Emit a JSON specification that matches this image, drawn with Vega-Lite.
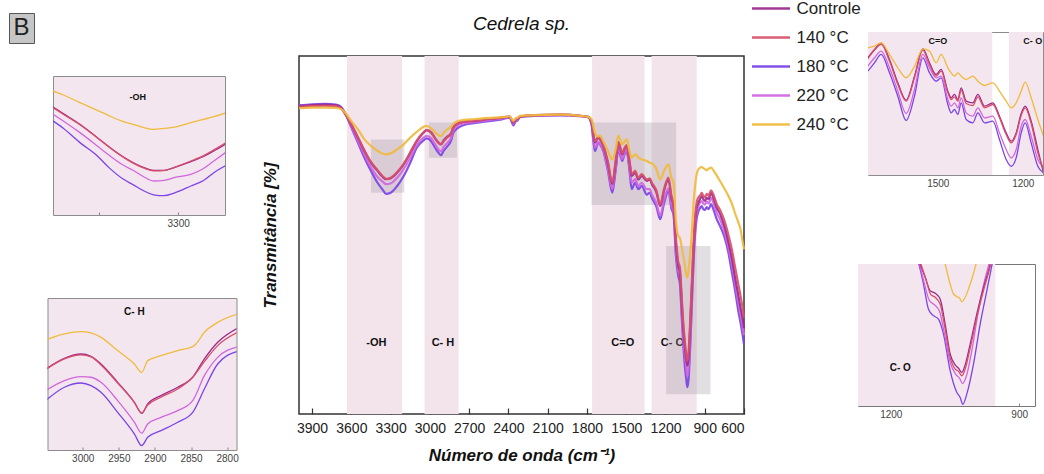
{
"$schema":"https://vega.github.io/schema/vega-lite/v6.json",
"padding":{"left":8,"top":-16,"right":0,"bottom":0},
"config":{"font":"Liberation Sans","view":{"stroke":null},"axis":{"grid":false},
 "legend":{"orient":"none","legendX":741.5,"legendY":4,"symbolType":"stroke","symbolSize":1444,"symbolStrokeWidth":2.5,"labelFontSize":17,"labelColor":"#222","labelOffset":5,"rowPadding":-8,"padding":0}},
"datasets":{
"bands":[{"w":3634,"w2":3212},{"w":3041,"w2":2780},{"w":1761,"w2":1360},{"w":1306,"w2":961}],
"boxes":[{"w":3450,"w2":3195,"t":61.8,"t2":76.7},{"w":3007,"w2":2793,"t":71.6,"t2":81.4},{"w":1765,"w2":1118,"t":58.4,"t2":81.4},{"w":1195,"w2":856,"t":5.5,"t2":46.9}],
"labels":[{"w":3409,"t":19.8,"label":"-OH"},{"w":2900,"t":19.8,"label":"C- H"},{"w":1526,"t":19.8,"label":"C=O"},{"w":1147,"t":19.8,"label":"C- O"}],
"coBands":[{"w":1760,"w2":1308},{"w":1249,"w2":1100}],
"coOBands":[{"w":1290,"w2":956}],
"lOH":[{"w":3351,"t":77.85,"label":"-OH"}],
"lCH":[{"w":2928.5,"t":81.45,"label":"C- H"}],
"lCO":[{"w":1500,"t":79.1,"label":"C=O"},{"w":1164.6,"t":79.1,"label":"C- O"}],
"lCO2":[{"w":1178,"t":18.5,"label":"C- O"}],
"bl":[{"label":"B"}],
"main":[
{"s":"180 °C","w":4000,"t":86.2},{"s":"180 °C","w":3900,"t":86.5},{"s":"180 °C","w":3800,"t":86.6},{"s":"180 °C","w":3720,"t":86.4},{"s":"180 °C","w":3680,"t":85.8},{"s":"180 °C","w":3650,"t":84.2},{"s":"180 °C","w":3600,"t":80.0},{"s":"180 °C","w":3550,"t":75.8},{"s":"180 °C","w":3500,"t":71.6},{"s":"180 °C","w":3450,"t":67.9},{"s":"180 °C","w":3400,"t":64.6},{"s":"180 °C","w":3360,"t":62.6},{"s":"180 °C","w":3335,"t":61.5},{"s":"180 °C","w":3300,"t":61.8},{"s":"180 °C","w":3250,"t":63.7},{"s":"180 °C","w":3200,"t":66.5},{"s":"180 °C","w":3150,"t":70.2},{"s":"180 °C","w":3100,"t":74.4},{"s":"180 °C","w":3050,"t":76.4},{"s":"180 °C","w":3025,"t":77.0},{"s":"180 °C","w":2990,"t":76.2},{"s":"180 °C","w":2960,"t":74.4},{"s":"180 °C","w":2935,"t":73.0},{"s":"180 °C","w":2915,"t":72.3},{"s":"180 °C","w":2895,"t":73.5},{"s":"180 °C","w":2870,"t":74.6},{"s":"180 °C","w":2840,"t":76.2},{"s":"180 °C","w":2820,"t":78.6},{"s":"180 °C","w":2790,"t":79.8},{"s":"180 °C","w":2750,"t":80.6},{"s":"180 °C","w":2650,"t":81.3},{"s":"180 °C","w":2550,"t":81.8},{"s":"180 °C","w":2450,"t":82.3},{"s":"180 °C","w":2390,"t":82.8},{"s":"180 °C","w":2362,"t":80.6},{"s":"180 °C","w":2345,"t":81.7},{"s":"180 °C","w":2330,"t":82.0},{"s":"180 °C","w":2310,"t":83.0},{"s":"180 °C","w":2200,"t":83.3},{"s":"180 °C","w":2000,"t":83.4},{"s":"180 °C","w":1850,"t":83.2},{"s":"180 °C","w":1790,"t":82.9},{"s":"180 °C","w":1765,"t":80.9},{"s":"180 °C","w":1739,"t":73.4},{"s":"180 °C","w":1714,"t":75.8},{"s":"180 °C","w":1701,"t":75.3},{"s":"180 °C","w":1675,"t":73.4},{"s":"180 °C","w":1640,"t":68.0},{"s":"180 °C","w":1606,"t":61.8},{"s":"180 °C","w":1580,"t":68.3},{"s":"180 °C","w":1560,"t":73.9},{"s":"180 °C","w":1530,"t":70.7},{"s":"180 °C","w":1515,"t":72.3},{"s":"180 °C","w":1496,"t":73.4},{"s":"180 °C","w":1475,"t":68.0},{"s":"180 °C","w":1458,"t":62.8},{"s":"180 °C","w":1432,"t":64.6},{"s":"180 °C","w":1407,"t":62.8},{"s":"180 °C","w":1381,"t":63.7},{"s":"180 °C","w":1343,"t":61.3},{"s":"180 °C","w":1320,"t":61.8},{"s":"180 °C","w":1304,"t":60.4},{"s":"180 °C","w":1270,"t":58.0},{"s":"180 °C","w":1240,"t":54.4},{"s":"180 °C","w":1210,"t":59.0},{"s":"180 °C","w":1177,"t":62.3},{"s":"180 °C","w":1155,"t":57.5},{"s":"180 °C","w":1138,"t":55.5},{"s":"180 °C","w":1120,"t":44.0},{"s":"180 °C","w":1102,"t":38.5},{"s":"180 °C","w":1090,"t":36.5},{"s":"180 °C","w":1077,"t":28.0},{"s":"180 °C","w":1064,"t":19.5},{"s":"180 °C","w":1051,"t":13.0},{"s":"180 °C","w":1042,"t":10.0},{"s":"180 °C","w":1033,"t":7.5},{"s":"180 °C","w":1024,"t":9.5},{"s":"180 °C","w":1013,"t":17.0},{"s":"180 °C","w":1000,"t":29.0},{"s":"180 °C","w":987,"t":41.0},{"s":"180 °C","w":974,"t":50.0},{"s":"180 °C","w":962,"t":54.5},{"s":"180 °C","w":949,"t":56.5},{"s":"180 °C","w":936,"t":57.5},{"s":"180 °C","w":923,"t":58.1},{"s":"180 °C","w":911,"t":57.2},{"s":"180 °C","w":898,"t":57.0},{"s":"180 °C","w":885,"t":57.8},{"s":"180 °C","w":870,"t":57.2},{"s":"180 °C","w":852,"t":58.6},{"s":"180 °C","w":834,"t":57.2},{"s":"180 °C","w":808,"t":54.4},{"s":"180 °C","w":783,"t":52.5},{"s":"180 °C","w":750,"t":49.5},{"s":"180 °C","w":719,"t":45.0},{"s":"180 °C","w":690,"t":39.0},{"s":"180 °C","w":668,"t":34.5},{"s":"180 °C","w":642,"t":28.5},{"s":"180 °C","w":629,"t":26.0},{"s":"180 °C","w":610,"t":22.0},{"s":"180 °C","w":600,"t":19.5},
{"s":"220 °C","w":4000,"t":85.9},{"s":"220 °C","w":3900,"t":86.1},{"s":"220 °C","w":3800,"t":86.2},{"s":"220 °C","w":3720,"t":86.0},{"s":"220 °C","w":3680,"t":85.5},{"s":"220 °C","w":3650,"t":84.1},{"s":"220 °C","w":3600,"t":80.4},{"s":"220 °C","w":3550,"t":76.4},{"s":"220 °C","w":3500,"t":72.5},{"s":"220 °C","w":3450,"t":69.0},{"s":"220 °C","w":3400,"t":66.2},{"s":"220 °C","w":3360,"t":64.9},{"s":"220 °C","w":3335,"t":64.2},{"s":"220 °C","w":3300,"t":64.4},{"s":"220 °C","w":3250,"t":66.0},{"s":"220 °C","w":3200,"t":68.4},{"s":"220 °C","w":3150,"t":71.6},{"s":"220 °C","w":3100,"t":75.1},{"s":"220 °C","w":3050,"t":77.2},{"s":"220 °C","w":3025,"t":77.7},{"s":"220 °C","w":2990,"t":77.0},{"s":"220 °C","w":2960,"t":75.3},{"s":"220 °C","w":2935,"t":73.9},{"s":"220 °C","w":2915,"t":73.4},{"s":"220 °C","w":2895,"t":74.6},{"s":"220 °C","w":2870,"t":75.6},{"s":"220 °C","w":2840,"t":77.0},{"s":"220 °C","w":2820,"t":79.3},{"s":"220 °C","w":2790,"t":80.5},{"s":"220 °C","w":2750,"t":81.1},{"s":"220 °C","w":2650,"t":81.6},{"s":"220 °C","w":2550,"t":82.1},{"s":"220 °C","w":2450,"t":82.6},{"s":"220 °C","w":2390,"t":83.0},{"s":"220 °C","w":2362,"t":81.1},{"s":"220 °C","w":2345,"t":81.9},{"s":"220 °C","w":2330,"t":82.2},{"s":"220 °C","w":2310,"t":83.0},{"s":"220 °C","w":2200,"t":83.4},{"s":"220 °C","w":2000,"t":83.5},{"s":"220 °C","w":1850,"t":83.2},{"s":"220 °C","w":1790,"t":82.9},{"s":"220 °C","w":1765,"t":81.0},{"s":"220 °C","w":1739,"t":74.4},{"s":"220 °C","w":1714,"t":76.0},{"s":"220 °C","w":1701,"t":75.5},{"s":"220 °C","w":1675,"t":73.8},{"s":"220 °C","w":1640,"t":68.5},{"s":"220 °C","w":1606,"t":62.8},{"s":"220 °C","w":1580,"t":69.0},{"s":"220 °C","w":1560,"t":74.5},{"s":"220 °C","w":1530,"t":71.2},{"s":"220 °C","w":1515,"t":72.6},{"s":"220 °C","w":1496,"t":73.8},{"s":"220 °C","w":1475,"t":68.8},{"s":"220 °C","w":1458,"t":64.6},{"s":"220 °C","w":1432,"t":65.6},{"s":"220 °C","w":1407,"t":63.7},{"s":"220 °C","w":1381,"t":64.6},{"s":"220 °C","w":1343,"t":62.8},{"s":"220 °C","w":1320,"t":62.8},{"s":"220 °C","w":1304,"t":61.3},{"s":"220 °C","w":1270,"t":59.0},{"s":"220 °C","w":1240,"t":55.5},{"s":"220 °C","w":1210,"t":60.0},{"s":"220 °C","w":1177,"t":63.0},{"s":"220 °C","w":1155,"t":58.5},{"s":"220 °C","w":1138,"t":56.5},{"s":"220 °C","w":1120,"t":45.5},{"s":"220 °C","w":1102,"t":40.0},{"s":"220 °C","w":1090,"t":38.5},{"s":"220 °C","w":1077,"t":30.0},{"s":"220 °C","w":1064,"t":21.5},{"s":"220 °C","w":1051,"t":16.0},{"s":"220 °C","w":1042,"t":13.0},{"s":"220 °C","w":1033,"t":10.5},{"s":"220 °C","w":1024,"t":12.5},{"s":"220 °C","w":1013,"t":20.0},{"s":"220 °C","w":1000,"t":31.5},{"s":"220 °C","w":987,"t":43.0},{"s":"220 °C","w":974,"t":52.0},{"s":"220 °C","w":962,"t":56.0},{"s":"220 °C","w":949,"t":58.0},{"s":"220 °C","w":936,"t":59.0},{"s":"220 °C","w":923,"t":59.5},{"s":"220 °C","w":911,"t":58.8},{"s":"220 °C","w":898,"t":58.5},{"s":"220 °C","w":885,"t":59.3},{"s":"220 °C","w":870,"t":58.8},{"s":"220 °C","w":852,"t":60.4},{"s":"220 °C","w":834,"t":59.0},{"s":"220 °C","w":808,"t":56.2},{"s":"220 °C","w":783,"t":54.4},{"s":"220 °C","w":750,"t":51.0},{"s":"220 °C","w":719,"t":46.5},{"s":"220 °C","w":690,"t":41.5},{"s":"220 °C","w":668,"t":36.5},{"s":"220 °C","w":642,"t":31.0},{"s":"220 °C","w":629,"t":28.5},{"s":"220 °C","w":610,"t":24.5},{"s":"220 °C","w":600,"t":22.0},
{"s":"Controle","w":4000,"t":86.0},{"s":"Controle","w":3900,"t":86.3},{"s":"Controle","w":3800,"t":86.4},{"s":"Controle","w":3720,"t":86.2},{"s":"Controle","w":3680,"t":85.6},{"s":"Controle","w":3650,"t":84.0},{"s":"Controle","w":3600,"t":80.8},{"s":"Controle","w":3550,"t":77.2},{"s":"Controle","w":3500,"t":73.5},{"s":"Controle","w":3450,"t":70.2},{"s":"Controle","w":3400,"t":67.9},{"s":"Controle","w":3360,"t":66.2},{"s":"Controle","w":3335,"t":65.6},{"s":"Controle","w":3300,"t":65.8},{"s":"Controle","w":3250,"t":67.4},{"s":"Controle","w":3200,"t":69.7},{"s":"Controle","w":3150,"t":72.9},{"s":"Controle","w":3100,"t":76.2},{"s":"Controle","w":3050,"t":78.5},{"s":"Controle","w":3025,"t":79.2},{"s":"Controle","w":2990,"t":78.6},{"s":"Controle","w":2960,"t":77.0},{"s":"Controle","w":2935,"t":75.8},{"s":"Controle","w":2915,"t":75.3},{"s":"Controle","w":2895,"t":76.4},{"s":"Controle","w":2870,"t":77.4},{"s":"Controle","w":2840,"t":78.3},{"s":"Controle","w":2820,"t":80.2},{"s":"Controle","w":2790,"t":81.1},{"s":"Controle","w":2750,"t":81.6},{"s":"Controle","w":2650,"t":81.9},{"s":"Controle","w":2550,"t":82.4},{"s":"Controle","w":2450,"t":82.8},{"s":"Controle","w":2390,"t":83.1},{"s":"Controle","w":2362,"t":81.4},{"s":"Controle","w":2345,"t":82.2},{"s":"Controle","w":2330,"t":82.5},{"s":"Controle","w":2310,"t":83.1},{"s":"Controle","w":2200,"t":83.5},{"s":"Controle","w":2000,"t":83.6},{"s":"Controle","w":1850,"t":83.3},{"s":"Controle","w":1790,"t":83.0},{"s":"Controle","w":1765,"t":81.4},{"s":"Controle","w":1739,"t":75.8},{"s":"Controle","w":1714,"t":77.2},{"s":"Controle","w":1701,"t":76.7},{"s":"Controle","w":1675,"t":74.9},{"s":"Controle","w":1640,"t":70.0},{"s":"Controle","w":1606,"t":64.2},{"s":"Controle","w":1580,"t":70.5},{"s":"Controle","w":1560,"t":75.8},{"s":"Controle","w":1530,"t":72.5},{"s":"Controle","w":1515,"t":73.9},{"s":"Controle","w":1496,"t":74.9},{"s":"Controle","w":1475,"t":70.5},{"s":"Controle","w":1458,"t":66.5},{"s":"Controle","w":1432,"t":67.4},{"s":"Controle","w":1407,"t":65.5},{"s":"Controle","w":1381,"t":66.5},{"s":"Controle","w":1343,"t":65.1},{"s":"Controle","w":1320,"t":65.5},{"s":"Controle","w":1304,"t":64.2},{"s":"Controle","w":1270,"t":62.0},{"s":"Controle","w":1240,"t":58.1},{"s":"Controle","w":1210,"t":62.5},{"s":"Controle","w":1177,"t":65.5},{"s":"Controle","w":1155,"t":60.5},{"s":"Controle","w":1138,"t":58.1},{"s":"Controle","w":1120,"t":47.5},{"s":"Controle","w":1102,"t":41.3},{"s":"Controle","w":1090,"t":39.8},{"s":"Controle","w":1077,"t":32.0},{"s":"Controle","w":1064,"t":24.0},{"s":"Controle","w":1051,"t":18.5},{"s":"Controle","w":1042,"t":15.5},{"s":"Controle","w":1033,"t":13.5},{"s":"Controle","w":1024,"t":15.5},{"s":"Controle","w":1013,"t":23.0},{"s":"Controle","w":1000,"t":34.0},{"s":"Controle","w":987,"t":45.0},{"s":"Controle","w":974,"t":53.5},{"s":"Controle","w":962,"t":57.5},{"s":"Controle","w":949,"t":59.0},{"s":"Controle","w":936,"t":60.0},{"s":"Controle","w":923,"t":60.9},{"s":"Controle","w":911,"t":60.0},{"s":"Controle","w":898,"t":59.5},{"s":"Controle","w":885,"t":60.4},{"s":"Controle","w":870,"t":60.0},{"s":"Controle","w":852,"t":61.8},{"s":"Controle","w":834,"t":60.4},{"s":"Controle","w":808,"t":57.6},{"s":"Controle","w":783,"t":55.9},{"s":"Controle","w":750,"t":52.5},{"s":"Controle","w":719,"t":48.0},{"s":"Controle","w":690,"t":43.0},{"s":"Controle","w":668,"t":38.1},{"s":"Controle","w":642,"t":33.0},{"s":"Controle","w":629,"t":30.2},{"s":"Controle","w":610,"t":26.5},{"s":"Controle","w":600,"t":24.0},
{"s":"140 °C","w":4000,"t":85.8},{"s":"140 °C","w":3900,"t":86.0},{"s":"140 °C","w":3800,"t":86.1},{"s":"140 °C","w":3720,"t":86.0},{"s":"140 °C","w":3680,"t":85.4},{"s":"140 °C","w":3650,"t":84.0},{"s":"140 °C","w":3600,"t":80.9},{"s":"140 °C","w":3550,"t":77.4},{"s":"140 °C","w":3500,"t":73.6},{"s":"140 °C","w":3450,"t":70.4},{"s":"140 °C","w":3400,"t":68.1},{"s":"140 °C","w":3360,"t":66.4},{"s":"140 °C","w":3335,"t":65.7},{"s":"140 °C","w":3300,"t":66.0},{"s":"140 °C","w":3250,"t":67.6},{"s":"140 °C","w":3200,"t":69.9},{"s":"140 °C","w":3150,"t":73.1},{"s":"140 °C","w":3100,"t":76.4},{"s":"140 °C","w":3050,"t":78.7},{"s":"140 °C","w":3025,"t":79.4},{"s":"140 °C","w":2990,"t":78.7},{"s":"140 °C","w":2960,"t":77.0},{"s":"140 °C","w":2935,"t":75.8},{"s":"140 °C","w":2915,"t":75.4},{"s":"140 °C","w":2895,"t":76.2},{"s":"140 °C","w":2870,"t":77.2},{"s":"140 °C","w":2840,"t":78.1},{"s":"140 °C","w":2820,"t":80.0},{"s":"140 °C","w":2790,"t":81.0},{"s":"140 °C","w":2750,"t":81.6},{"s":"140 °C","w":2650,"t":82.0},{"s":"140 °C","w":2550,"t":82.4},{"s":"140 °C","w":2450,"t":82.8},{"s":"140 °C","w":2390,"t":83.1},{"s":"140 °C","w":2362,"t":81.5},{"s":"140 °C","w":2345,"t":82.3},{"s":"140 °C","w":2330,"t":82.5},{"s":"140 °C","w":2310,"t":83.1},{"s":"140 °C","w":2200,"t":83.5},{"s":"140 °C","w":2000,"t":83.6},{"s":"140 °C","w":1850,"t":83.3},{"s":"140 °C","w":1790,"t":83.0},{"s":"140 °C","w":1765,"t":81.6},{"s":"140 °C","w":1739,"t":76.2},{"s":"140 °C","w":1714,"t":77.4},{"s":"140 °C","w":1701,"t":77.0},{"s":"140 °C","w":1675,"t":75.1},{"s":"140 °C","w":1640,"t":70.5},{"s":"140 °C","w":1606,"t":64.6},{"s":"140 °C","w":1580,"t":71.0},{"s":"140 °C","w":1560,"t":76.0},{"s":"140 °C","w":1530,"t":72.8},{"s":"140 °C","w":1515,"t":74.1},{"s":"140 °C","w":1496,"t":75.1},{"s":"140 °C","w":1475,"t":70.8},{"s":"140 °C","w":1458,"t":67.0},{"s":"140 °C","w":1432,"t":67.9},{"s":"140 °C","w":1407,"t":66.0},{"s":"140 °C","w":1381,"t":67.0},{"s":"140 °C","w":1343,"t":65.5},{"s":"140 °C","w":1320,"t":65.8},{"s":"140 °C","w":1304,"t":64.6},{"s":"140 °C","w":1270,"t":62.5},{"s":"140 °C","w":1240,"t":58.6},{"s":"140 °C","w":1210,"t":63.0},{"s":"140 °C","w":1177,"t":66.0},{"s":"140 °C","w":1155,"t":61.0},{"s":"140 °C","w":1138,"t":58.6},{"s":"140 °C","w":1120,"t":49.0},{"s":"140 °C","w":1102,"t":42.5},{"s":"140 °C","w":1090,"t":41.0},{"s":"140 °C","w":1077,"t":33.5},{"s":"140 °C","w":1064,"t":25.5},{"s":"140 °C","w":1051,"t":20.0},{"s":"140 °C","w":1042,"t":16.8},{"s":"140 °C","w":1033,"t":14.8},{"s":"140 °C","w":1024,"t":17.0},{"s":"140 °C","w":1013,"t":24.5},{"s":"140 °C","w":1000,"t":35.5},{"s":"140 °C","w":987,"t":46.5},{"s":"140 °C","w":974,"t":55.0},{"s":"140 °C","w":962,"t":59.0},{"s":"140 °C","w":949,"t":60.5},{"s":"140 °C","w":936,"t":61.0},{"s":"140 °C","w":923,"t":61.8},{"s":"140 °C","w":911,"t":61.0},{"s":"140 °C","w":898,"t":60.5},{"s":"140 °C","w":885,"t":61.5},{"s":"140 °C","w":870,"t":61.0},{"s":"140 °C","w":852,"t":62.5},{"s":"140 °C","w":834,"t":61.3},{"s":"140 °C","w":808,"t":58.6},{"s":"140 °C","w":783,"t":57.0},{"s":"140 °C","w":750,"t":54.0},{"s":"140 °C","w":719,"t":50.0},{"s":"140 °C","w":690,"t":45.5},{"s":"140 °C","w":668,"t":41.0},{"s":"140 °C","w":642,"t":36.0},{"s":"140 °C","w":629,"t":33.5},{"s":"140 °C","w":610,"t":29.5},{"s":"140 °C","w":600,"t":27.0},
{"s":"240 °C","w":4000,"t":85.4},{"s":"240 °C","w":3900,"t":85.6},{"s":"240 °C","w":3800,"t":85.6},{"s":"240 °C","w":3720,"t":85.5},{"s":"240 °C","w":3680,"t":85.2},{"s":"240 °C","w":3650,"t":84.3},{"s":"240 °C","w":3600,"t":81.8},{"s":"240 °C","w":3550,"t":79.5},{"s":"240 °C","w":3500,"t":76.7},{"s":"240 °C","w":3450,"t":74.9},{"s":"240 °C","w":3400,"t":73.5},{"s":"240 °C","w":3360,"t":72.7},{"s":"240 °C","w":3335,"t":72.5},{"s":"240 °C","w":3300,"t":72.8},{"s":"240 °C","w":3250,"t":73.9},{"s":"240 °C","w":3200,"t":75.3},{"s":"240 °C","w":3150,"t":77.2},{"s":"240 °C","w":3100,"t":78.8},{"s":"240 °C","w":3050,"t":80.2},{"s":"240 °C","w":3025,"t":80.5},{"s":"240 °C","w":2990,"t":79.8},{"s":"240 °C","w":2960,"t":78.7},{"s":"240 °C","w":2935,"t":77.9},{"s":"240 °C","w":2915,"t":77.6},{"s":"240 °C","w":2895,"t":78.6},{"s":"240 °C","w":2870,"t":79.4},{"s":"240 °C","w":2840,"t":80.2},{"s":"240 °C","w":2820,"t":81.1},{"s":"240 °C","w":2790,"t":81.8},{"s":"240 °C","w":2750,"t":82.1},{"s":"240 °C","w":2650,"t":82.4},{"s":"240 °C","w":2550,"t":82.7},{"s":"240 °C","w":2450,"t":82.9},{"s":"240 °C","w":2390,"t":83.1},{"s":"240 °C","w":2362,"t":81.9},{"s":"240 °C","w":2345,"t":82.6},{"s":"240 °C","w":2330,"t":82.8},{"s":"240 °C","w":2310,"t":83.3},{"s":"240 °C","w":2200,"t":83.5},{"s":"240 °C","w":2000,"t":83.6},{"s":"240 °C","w":1850,"t":83.3},{"s":"240 °C","w":1790,"t":83.0},{"s":"240 °C","w":1765,"t":82.3},{"s":"240 °C","w":1739,"t":78.6},{"s":"240 °C","w":1714,"t":77.5},{"s":"240 °C","w":1701,"t":77.8},{"s":"240 °C","w":1675,"t":76.2},{"s":"240 °C","w":1640,"t":73.5},{"s":"240 °C","w":1606,"t":71.1},{"s":"240 °C","w":1580,"t":74.0},{"s":"240 °C","w":1560,"t":77.8},{"s":"240 °C","w":1530,"t":75.3},{"s":"240 °C","w":1515,"t":76.0},{"s":"240 °C","w":1496,"t":76.7},{"s":"240 °C","w":1475,"t":73.5},{"s":"240 °C","w":1458,"t":71.6},{"s":"240 °C","w":1432,"t":72.5},{"s":"240 °C","w":1407,"t":71.6},{"s":"240 °C","w":1381,"t":71.1},{"s":"240 °C","w":1343,"t":70.7},{"s":"240 °C","w":1320,"t":70.2},{"s":"240 °C","w":1304,"t":70.0},{"s":"240 °C","w":1270,"t":68.5},{"s":"240 °C","w":1240,"t":65.5},{"s":"240 °C","w":1210,"t":68.0},{"s":"240 °C","w":1177,"t":69.7},{"s":"240 °C","w":1155,"t":66.0},{"s":"240 °C","w":1138,"t":64.6},{"s":"240 °C","w":1120,"t":54.0},{"s":"240 °C","w":1102,"t":49.7},{"s":"240 °C","w":1090,"t":49.2},{"s":"240 °C","w":1077,"t":46.9},{"s":"240 °C","w":1064,"t":44.1},{"s":"240 °C","w":1051,"t":41.3},{"s":"240 °C","w":1042,"t":39.0},{"s":"240 °C","w":1033,"t":38.1},{"s":"240 °C","w":1024,"t":39.8},{"s":"240 °C","w":1013,"t":44.0},{"s":"240 °C","w":1000,"t":49.7},{"s":"240 °C","w":987,"t":58.1},{"s":"240 °C","w":974,"t":63.7},{"s":"240 °C","w":962,"t":66.9},{"s":"240 °C","w":949,"t":68.3},{"s":"240 °C","w":936,"t":68.8},{"s":"240 °C","w":923,"t":69.0},{"s":"240 °C","w":911,"t":68.7},{"s":"240 °C","w":898,"t":68.4},{"s":"240 °C","w":885,"t":68.1},{"s":"240 °C","w":870,"t":68.5},{"s":"240 °C","w":852,"t":68.8},{"s":"240 °C","w":834,"t":68.1},{"s":"240 °C","w":808,"t":66.6},{"s":"240 °C","w":783,"t":65.1},{"s":"240 °C","w":750,"t":63.0},{"s":"240 °C","w":719,"t":60.9},{"s":"240 °C","w":690,"t":58.5},{"s":"240 °C","w":668,"t":56.0},{"s":"240 °C","w":642,"t":53.4},{"s":"240 °C","w":629,"t":52.0},{"s":"240 °C","w":610,"t":48.0},{"s":"240 °C","w":600,"t":46.0}
],
"dOH":[
{"s":"180 °C","w":3463,"t":74.3},{"s":"180 °C","w":3445,"t":72.61},{"s":"180 °C","w":3424,"t":70.22},{"s":"180 °C","w":3402,"t":67.99},{"s":"180 °C","w":3387,"t":66.0},{"s":"180 °C","w":3369,"t":64.09},{"s":"180 °C","w":3357,"t":63.2},{"s":"180 °C","w":3343,"t":62.14},{"s":"180 °C","w":3331,"t":61.5},{"s":"180 °C","w":3318,"t":61.35},{"s":"180 °C","w":3305,"t":61.8},{"s":"180 °C","w":3284,"t":62.97},{"s":"180 °C","w":3268,"t":63.9},{"s":"180 °C","w":3255,"t":65.2},{"s":"180 °C","w":3239,"t":66.45},
{"s":"220 °C","w":3463,"t":75.4},{"s":"220 °C","w":3445,"t":73.84},{"s":"220 °C","w":3424,"t":71.89},{"s":"220 °C","w":3402,"t":69.66},{"s":"220 °C","w":3387,"t":68.1},{"s":"220 °C","w":3369,"t":66.43},{"s":"220 °C","w":3357,"t":65.6},{"s":"220 °C","w":3343,"t":64.48},{"s":"220 °C","w":3331,"t":63.81},{"s":"220 °C","w":3318,"t":63.92},{"s":"220 °C","w":3305,"t":64.37},{"s":"220 °C","w":3284,"t":64.92},{"s":"220 °C","w":3268,"t":65.9},{"s":"220 °C","w":3255,"t":67.15},{"s":"220 °C","w":3239,"t":68.7},
{"s":"Controle","w":3463,"t":76.6},{"s":"Controle","w":3445,"t":75.06},{"s":"Controle","w":3424,"t":73.28},{"s":"Controle","w":3402,"t":71.05},{"s":"Controle","w":3387,"t":69.5},{"s":"Controle","w":3369,"t":67.82},{"s":"Controle","w":3357,"t":66.9},{"s":"Controle","w":3343,"t":66.04},{"s":"Controle","w":3331,"t":65.59},{"s":"Controle","w":3318,"t":65.59},{"s":"Controle","w":3305,"t":66.04},{"s":"Controle","w":3284,"t":67.04},{"s":"Controle","w":3268,"t":67.9},{"s":"Controle","w":3255,"t":68.83},{"s":"Controle","w":3239,"t":70.05},
{"s":"140 °C","w":3463,"t":76.5},{"s":"140 °C","w":3445,"t":74.95},{"s":"140 °C","w":3424,"t":73.2},{"s":"140 °C","w":3402,"t":71.0},{"s":"140 °C","w":3387,"t":69.45},{"s":"140 °C","w":3369,"t":67.75},{"s":"140 °C","w":3357,"t":66.8},{"s":"140 °C","w":3343,"t":65.95},{"s":"140 °C","w":3331,"t":65.5},{"s":"140 °C","w":3318,"t":65.55},{"s":"140 °C","w":3305,"t":66.1},{"s":"140 °C","w":3284,"t":67.15},{"s":"140 °C","w":3268,"t":68.05},{"s":"140 °C","w":3255,"t":69.0},{"s":"140 °C","w":3239,"t":70.25},
{"s":"240 °C","w":3463,"t":79.1},{"s":"240 °C","w":3445,"t":78.18},{"s":"240 °C","w":3424,"t":76.9},{"s":"240 °C","w":3402,"t":75.62},{"s":"240 °C","w":3387,"t":74.7},{"s":"240 °C","w":3369,"t":73.72},{"s":"240 °C","w":3357,"t":73.28},{"s":"240 °C","w":3343,"t":72.72},{"s":"240 °C","w":3331,"t":72.44},{"s":"240 °C","w":3318,"t":72.61},{"s":"240 °C","w":3305,"t":72.8},{"s":"240 °C","w":3284,"t":73.56},{"s":"240 °C","w":3268,"t":74.11},{"s":"240 °C","w":3255,"t":74.56},{"s":"240 °C","w":3239,"t":75.2}
],
"dCH":[
{"s":"180 °C","w":3049.9,"t":75.26},{"s":"180 °C","w":3025.4,"t":76.14},{"s":"180 °C","w":3002.4,"t":76.44},{"s":"180 °C","w":2988.5,"t":76.25},{"s":"180 °C","w":2974.7,"t":75.78},{"s":"180 °C","w":2951.6,"t":74.36},{"s":"180 °C","w":2928.5,"t":72.83},{"s":"180 °C","w":2918.3,"t":72.0},{"s":"180 °C","w":2910.0,"t":72.59},{"s":"180 °C","w":2891.6,"t":73.06},{"s":"180 °C","w":2868.5,"t":73.66},{"s":"180 °C","w":2847.7,"t":74.36},{"s":"180 °C","w":2831.5,"t":76.02},{"s":"180 °C","w":2813.1,"t":77.79},{"s":"180 °C","w":2785,"t":78.7},
{"s":"220 °C","w":3049.9,"t":75.95},{"s":"220 °C","w":3025.4,"t":76.61},{"s":"220 °C","w":3002.4,"t":76.89},{"s":"220 °C","w":2988.5,"t":76.85},{"s":"220 °C","w":2974.7,"t":76.49},{"s":"220 °C","w":2951.6,"t":75.19},{"s":"220 °C","w":2928.5,"t":73.66},{"s":"220 °C","w":2918.3,"t":72.88},{"s":"220 °C","w":2910.0,"t":73.54},{"s":"220 °C","w":2891.6,"t":74.01},{"s":"220 °C","w":2868.5,"t":74.48},{"s":"220 °C","w":2847.7,"t":75.19},{"s":"220 °C","w":2831.5,"t":76.96},{"s":"220 °C","w":2813.1,"t":78.26},{"s":"220 °C","w":2785,"t":79.0},
{"s":"Controle","w":3049.9,"t":77.48},{"s":"Controle","w":3025.4,"t":78.19},{"s":"Controle","w":3002.4,"t":78.5},{"s":"Controle","w":2988.5,"t":78.34},{"s":"Controle","w":2974.7,"t":77.79},{"s":"Controle","w":2951.6,"t":76.49},{"s":"Controle","w":2928.5,"t":75.07},{"s":"Controle","w":2918.3,"t":74.29},{"s":"Controle","w":2910.0,"t":74.96},{"s":"Controle","w":2891.6,"t":75.55},{"s":"Controle","w":2868.5,"t":76.14},{"s":"Controle","w":2847.7,"t":76.85},{"s":"Controle","w":2831.5,"t":78.15},{"s":"Controle","w":2813.1,"t":79.33},{"s":"Controle","w":2785,"t":80.35},
{"s":"140 °C","w":3049.9,"t":77.44},{"s":"140 °C","w":3025.4,"t":78.15},{"s":"140 °C","w":3002.4,"t":78.43},{"s":"140 °C","w":2988.5,"t":78.29},{"s":"140 °C","w":2974.7,"t":77.72},{"s":"140 °C","w":2951.6,"t":76.44},{"s":"140 °C","w":2928.5,"t":75.07},{"s":"140 °C","w":2918.3,"t":74.32},{"s":"140 °C","w":2910.0,"t":74.88},{"s":"140 °C","w":2891.6,"t":75.43},{"s":"140 °C","w":2868.5,"t":76.02},{"s":"140 °C","w":2847.7,"t":76.85},{"s":"140 °C","w":2831.5,"t":77.96},{"s":"140 °C","w":2813.1,"t":79.09},{"s":"140 °C","w":2785,"t":80.05},
{"s":"240 °C","w":3049.9,"t":79.52},{"s":"240 °C","w":3025.4,"t":79.92},{"s":"240 °C","w":3002.4,"t":80.08},{"s":"240 °C","w":2988.5,"t":79.99},{"s":"240 °C","w":2974.7,"t":79.68},{"s":"240 °C","w":2951.6,"t":78.74},{"s":"240 °C","w":2928.5,"t":77.79},{"s":"240 °C","w":2918.3,"t":77.2},{"s":"240 °C","w":2910.0,"t":78.03},{"s":"240 °C","w":2891.6,"t":78.38},{"s":"240 °C","w":2868.5,"t":78.74},{"s":"240 °C","w":2847.7,"t":79.02},{"s":"240 °C","w":2843.1,"t":79.21},{"s":"240 °C","w":2831.5,"t":80.04},{"s":"240 °C","w":2813.1,"t":80.74},{"s":"240 °C","w":2785,"t":81.35}
],
"dCO":[
{"s":"180 °C","w":1747.0,"t":72.56},{"s":"180 °C","w":1723.5,"t":74.38},{"s":"180 °C","w":1699.9,"t":76.2},{"s":"180 °C","w":1670.5,"t":72.2},{"s":"180 °C","w":1641.1,"t":67.1},{"s":"180 °C","w":1611.7,"t":61.79},{"s":"180 °C","w":1582.3,"t":67.1},{"s":"180 °C","w":1552.8,"t":75.47},{"s":"180 °C","w":1529.3,"t":72.2},{"s":"180 °C","w":1505.8,"t":70.38},{"s":"180 °C","w":1488.1,"t":71.11},{"s":"180 °C","w":1464.6,"t":65.28},{"s":"180 °C","w":1452.8,"t":63.46},{"s":"180 °C","w":1441.1,"t":64.19},{"s":"180 °C","w":1429.3,"t":63.1},{"s":"180 °C","w":1417.5,"t":65.65},{"s":"180 °C","w":1399.9,"t":62.01},{"s":"180 °C","w":1376.4,"t":61.28},{"s":"180 °C","w":1358.7,"t":63.46},{"s":"180 °C","w":1335.2,"t":61.28},{"s":"180 °C","w":1305.8,"t":61.64},{"s":"180 °C","w":1282.3,"t":57.64},{"s":"180 °C","w":1258.7,"t":53.27},{"s":"180 °C","w":1241.0,"t":51.81},{"s":"180 °C","w":1223.4,"t":53.63},{"s":"180 °C","w":1205.7,"t":59.09},{"s":"180 °C","w":1191.6,"t":61.28},{"s":"180 °C","w":1170.4,"t":56.91},{"s":"180 °C","w":1146.9,"t":51.81},{"s":"180 °C","w":1126.9,"t":50.36},
{"s":"220 °C","w":1747.0,"t":73.65},{"s":"220 °C","w":1723.5,"t":75.47},{"s":"220 °C","w":1699.9,"t":76.93},{"s":"220 °C","w":1670.5,"t":73.29},{"s":"220 °C","w":1641.1,"t":68.2},{"s":"220 °C","w":1611.7,"t":63.32},{"s":"220 °C","w":1582.3,"t":68.56},{"s":"220 °C","w":1552.8,"t":76.2},{"s":"220 °C","w":1529.3,"t":73.29},{"s":"220 °C","w":1505.8,"t":71.11},{"s":"220 °C","w":1488.1,"t":71.47},{"s":"220 °C","w":1464.6,"t":66.37},{"s":"220 °C","w":1452.8,"t":64.92},{"s":"220 °C","w":1441.1,"t":65.65},{"s":"220 °C","w":1429.3,"t":64.55},{"s":"220 °C","w":1417.5,"t":66.74},{"s":"220 °C","w":1399.9,"t":63.46},{"s":"220 °C","w":1376.4,"t":62.73},{"s":"220 °C","w":1358.7,"t":64.55},{"s":"220 °C","w":1335.2,"t":62.37},{"s":"220 °C","w":1305.8,"t":62.73},{"s":"220 °C","w":1282.3,"t":59.09},{"s":"220 °C","w":1258.7,"t":55.45},{"s":"220 °C","w":1241.0,"t":53.63},{"s":"220 °C","w":1223.4,"t":55.45},{"s":"220 °C","w":1205.7,"t":60.55},{"s":"220 °C","w":1191.6,"t":62.01},{"s":"220 °C","w":1170.4,"t":58.37},{"s":"220 °C","w":1146.9,"t":53.27},{"s":"220 °C","w":1126.9,"t":51.45},
{"s":"Controle","w":1747.0,"t":75.47},{"s":"Controle","w":1723.5,"t":77.29},{"s":"Controle","w":1699.9,"t":78.6},{"s":"Controle","w":1670.5,"t":75.11},{"s":"Controle","w":1641.1,"t":70.01},{"s":"Controle","w":1611.7,"t":66.23},{"s":"Controle","w":1582.3,"t":71.47},{"s":"Controle","w":1552.8,"t":77.44},{"s":"Controle","w":1529.3,"t":74.38},{"s":"Controle","w":1505.8,"t":71.83},{"s":"Controle","w":1488.1,"t":72.93},{"s":"Controle","w":1464.6,"t":68.2},{"s":"Controle","w":1452.8,"t":66.74},{"s":"Controle","w":1441.1,"t":67.47},{"s":"Controle","w":1429.3,"t":66.37},{"s":"Controle","w":1417.5,"t":68.92},{"s":"Controle","w":1399.9,"t":66.01},{"s":"Controle","w":1376.4,"t":65.65},{"s":"Controle","w":1358.7,"t":67.47},{"s":"Controle","w":1335.2,"t":64.92},{"s":"Controle","w":1305.8,"t":65.65},{"s":"Controle","w":1282.3,"t":62.73},{"s":"Controle","w":1258.7,"t":59.09},{"s":"Controle","w":1241.0,"t":57.27},{"s":"Controle","w":1223.4,"t":59.09},{"s":"Controle","w":1205.7,"t":63.32},{"s":"Controle","w":1191.6,"t":64.92},{"s":"Controle","w":1170.4,"t":61.64},{"s":"Controle","w":1146.9,"t":55.45},{"s":"Controle","w":1126.9,"t":50.36},
{"s":"140 °C","w":1747.0,"t":75.26},{"s":"140 °C","w":1723.5,"t":77.15},{"s":"140 °C","w":1699.9,"t":78.39},{"s":"140 °C","w":1670.5,"t":74.75},{"s":"140 °C","w":1641.1,"t":69.65},{"s":"140 °C","w":1611.7,"t":66.01},{"s":"140 °C","w":1582.3,"t":71.11},{"s":"140 °C","w":1552.8,"t":77.15},{"s":"140 °C","w":1529.3,"t":74.02},{"s":"140 °C","w":1505.8,"t":71.47},{"s":"140 °C","w":1488.1,"t":72.56},{"s":"140 °C","w":1464.6,"t":67.83},{"s":"140 °C","w":1452.8,"t":66.37},{"s":"140 °C","w":1441.1,"t":66.95},{"s":"140 °C","w":1429.3,"t":66.01},{"s":"140 °C","w":1417.5,"t":68.41},{"s":"140 °C","w":1399.9,"t":65.5},{"s":"140 °C","w":1376.4,"t":65.06},{"s":"140 °C","w":1358.7,"t":66.95},{"s":"140 °C","w":1335.2,"t":64.55},{"s":"140 °C","w":1305.8,"t":65.28},{"s":"140 °C","w":1282.3,"t":62.37},{"s":"140 °C","w":1258.7,"t":58.73},{"s":"140 °C","w":1241.0,"t":56.91},{"s":"140 °C","w":1223.4,"t":58.73},{"s":"140 °C","w":1205.7,"t":62.88},{"s":"140 °C","w":1191.6,"t":64.55},{"s":"140 °C","w":1170.4,"t":61.13},{"s":"140 °C","w":1146.9,"t":54.73},{"s":"140 °C","w":1126.9,"t":51.09},
{"s":"240 °C","w":1747.0,"t":77.66},{"s":"240 °C","w":1723.5,"t":78.02},{"s":"240 °C","w":1699.9,"t":78.75},{"s":"240 °C","w":1670.5,"t":76.2},{"s":"240 °C","w":1641.1,"t":73.29},{"s":"240 °C","w":1611.7,"t":71.11},{"s":"240 °C","w":1582.3,"t":73.65},{"s":"240 °C","w":1552.8,"t":77.44},{"s":"240 °C","w":1529.3,"t":76.93},{"s":"240 °C","w":1505.8,"t":74.38},{"s":"240 °C","w":1488.1,"t":76.2},{"s":"240 °C","w":1464.6,"t":73.29},{"s":"240 °C","w":1452.8,"t":72.2},{"s":"240 °C","w":1441.1,"t":71.47},{"s":"240 °C","w":1429.3,"t":72.2},{"s":"240 °C","w":1417.5,"t":71.47},{"s":"240 °C","w":1399.9,"t":70.74},{"s":"240 °C","w":1376.4,"t":71.47},{"s":"240 °C","w":1358.7,"t":70.38},{"s":"240 °C","w":1335.2,"t":69.43},{"s":"240 °C","w":1305.8,"t":70.01},{"s":"240 °C","w":1282.3,"t":68.2},{"s":"240 °C","w":1258.7,"t":66.01},{"s":"240 °C","w":1241.0,"t":64.55},{"s":"240 °C","w":1223.4,"t":65.65},{"s":"240 °C","w":1205.7,"t":68.2},{"s":"240 °C","w":1191.6,"t":70.16},{"s":"240 °C","w":1170.4,"t":66.74},{"s":"240 °C","w":1146.9,"t":62.01},{"s":"240 °C","w":1126.9,"t":58.37}
],
"dCO2":[
{"s":"180 °C","w":1146.2,"t":52.9},{"s":"180 °C","w":1134.5,"t":49.0},{"s":"180 °C","w":1123.6,"t":43.1},{"s":"180 °C","w":1111.9,"t":35.7},{"s":"180 °C","w":1100.3,"t":33.8},{"s":"180 °C","w":1088.6,"t":32.8},{"s":"180 °C","w":1076.9,"t":28.4},{"s":"180 °C","w":1061.3,"t":17.6},{"s":"180 °C","w":1045.7,"t":11.2},{"s":"180 °C","w":1037.9,"t":9.7},{"s":"180 °C","w":1031.7,"t":7.7},{"s":"180 °C","w":1022.4,"t":10.7},{"s":"180 °C","w":1006.8,"t":19.5},{"s":"180 °C","w":991.2,"t":31.3},{"s":"180 °C","w":975.6,"t":41.15},{"s":"180 °C","w":966.3,"t":47.05},{"s":"180 °C","w":958.5,"t":52.0},
{"s":"220 °C","w":1144.6,"t":52.9},{"s":"220 °C","w":1133.0,"t":49.0},{"s":"220 °C","w":1121.3,"t":43.1},{"s":"220 °C","w":1109.6,"t":38.2},{"s":"220 °C","w":1097.9,"t":37.0},{"s":"220 °C","w":1086.2,"t":35.1},{"s":"220 °C","w":1074.5,"t":28.4},{"s":"220 °C","w":1061.3,"t":20.0},{"s":"220 °C","w":1047.3,"t":16.4},{"s":"220 °C","w":1039.5,"t":15.4},{"s":"220 °C","w":1032.5,"t":13.8},{"s":"220 °C","w":1023.9,"t":15.8},{"s":"220 °C","w":1010.7,"t":23.5},{"s":"220 °C","w":996.6,"t":34.3},{"s":"220 °C","w":981.9,"t":43.6},{"s":"220 °C","w":971.7,"t":48.5},{"s":"220 °C","w":964.7,"t":52.0},
{"s":"Controle","w":1143.1,"t":52.9},{"s":"Controle","w":1131.4,"t":49.0},{"s":"Controle","w":1119.7,"t":45.1},{"s":"Controle","w":1108.0,"t":41.15},{"s":"Controle","w":1096.3,"t":40.4},{"s":"Controle","w":1084.7,"t":38.7},{"s":"Controle","w":1073.0,"t":31.3},{"s":"Controle","w":1061.3,"t":22.5},{"s":"Controle","w":1049.6,"t":19.3},{"s":"Controle","w":1041.8,"t":18.3},{"s":"Controle","w":1034.0,"t":17.1},{"s":"Controle","w":1026.3,"t":19.3},{"s":"Controle","w":1014.6,"t":25.4},{"s":"Controle","w":999.0,"t":34.3},{"s":"Controle","w":983.4,"t":42.1},{"s":"Controle","w":971.7,"t":47.05},{"s":"Controle","w":961.6,"t":52.0},
{"s":"140 °C","w":1141.5,"t":52.9},{"s":"140 °C","w":1129.8,"t":49.0},{"s":"140 °C","w":1118.1,"t":44.6},{"s":"140 °C","w":1106.5,"t":40.0},{"s":"140 °C","w":1096.3,"t":39.2},{"s":"140 °C","w":1084.7,"t":37.2},{"s":"140 °C","w":1073.0,"t":29.8},{"s":"140 °C","w":1061.3,"t":21.5},{"s":"140 °C","w":1049.6,"t":18.05},{"s":"140 °C","w":1041.8,"t":17.4},{"s":"140 °C","w":1034.0,"t":16.1},{"s":"140 °C","w":1026.3,"t":18.05},{"s":"140 °C","w":1014.6,"t":24.2},{"s":"140 °C","w":999.0,"t":33.3},{"s":"140 °C","w":983.4,"t":41.15},{"s":"140 °C","w":970.2,"t":47.05},{"s":"140 °C","w":960.1,"t":52.0},
{"s":"240 °C","w":1080.8,"t":52.9},{"s":"240 °C","w":1073.0,"t":49.0},{"s":"240 °C","w":1061.3,"t":43.1},{"s":"240 °C","w":1053.5,"t":40.2},{"s":"240 °C","w":1045.7,"t":39.4},{"s":"240 °C","w":1039.5,"t":39.0},{"s":"240 °C","w":1034.0,"t":37.9},{"s":"240 °C","w":1026.3,"t":39.2},{"s":"240 °C","w":1018.5,"t":41.6},{"s":"240 °C","w":1010.7,"t":44.6},{"s":"240 °C","w":1002.9,"t":48.0},{"s":"240 °C","w":995.1,"t":52.0}
]
},
"spacing":21,
"resolve":{"scale":{"x":"independent","y":"independent"}},
"hconcat":[
 {"spacing":11.5,"resolve":{"scale":{"x":"independent","y":"independent"}},"hconcat":[
  {"spacing":2,"vconcat":[
    {"width":25,"height":26,"data":{"values":[]},"mark":"point"},
    {"width":25,"height":30,"view":{"fill":"#c6c6c6","stroke":"#555555","strokeWidth":1},"data":{"name":"bl"},"mark":{"type":"text","fontSize":24,"color":"#222222"},"encoding":{"text":{"field":"label"}}}
  ]},
  {"spacing":10,"resolve":{"scale":{"x":"independent","y":"independent"}},"vconcat":[
    {"width":1,"height":80.5,"data":{"values":[]},"mark":"point"},
    {"spacing":3.5,"resolve":{"scale":{"x":"independent","y":"independent"}},"hconcat":[
      {"width":1,"height":1,"data":{"values":[]},"mark":"point"},
      {"width":172,"height":139,"view":{"fill":"#f4e6ee","stroke":"#8c8c8c","strokeWidth":1},
       "layer":[
        {"data":{"name":"dOH"},"mark":{"type":"line","strokeWidth":1.3,"clip":true,"interpolate":"monotone"},
         "encoding":{"x":{"field":"w","type":"quantitative","scale":{"domain":[3240.9,3458],"reverse":true,"nice":false,"zero":false},"axis":{"values":[3400,3300],"labelExpr":"datum.value == 3300 ? '3300' : ''","tickSize":-3,"labelPadding":6,"labelFontSize":10,"labelColor":"#444444","tickColor":"#888888","domain":false,"title":null}},
          "y":{"field":"t","type":"quantitative","scale":{"domain":[58.13,81.35],"nice":false,"zero":false},"axis":null},
          "color":{"field":"s","type":"nominal","scale":{"domain":["Controle","140 °C","180 °C","220 °C","240 °C"],"range":["#9a2a8c","#d84f6a","#7b44e6","#d166df","#efbb3d"]},"legend":{"title":null}}}},
        {"data":{"name":"lOH"},"mark":{"type":"text","fontWeight":"bold","fontSize":9,"color":"#111111"},
         "encoding":{"x":{"field":"w","type":"quantitative"},"y":{"field":"t","type":"quantitative"},"text":{"field":"label"}}}
       ]}
    ]},
    {"width":1,"height":48,"data":{"values":[]},"mark":"point"},
    {"width":189,"height":152,"view":{"fill":"#f4e6ee","stroke":"#8c8c8c","strokeWidth":1},
     "layer":[
      {"data":{"name":"dCH"},"mark":{"type":"line","strokeWidth":1.3,"clip":true,"interpolate":"monotone"},
       "encoding":{"x":{"field":"w","type":"quantitative","scale":{"domain":[2787,3048.8],"reverse":true,"nice":false,"zero":false},"axis":{"values":[3000,2950,2900,2850,2800],"format":"d","tickSize":-3,"labelPadding":6,"labelFontSize":10,"labelColor":"#444444","tickColor":"#888888","domain":false,"title":null}},
        "y":{"field":"t","type":"quantitative","scale":{"domain":[71.69,82.47],"nice":false,"zero":false},"axis":null},
        "color":{"field":"s","type":"nominal","scale":{"domain":["Controle","140 °C","180 °C","220 °C","240 °C"],"range":["#9a2a8c","#d84f6a","#7b44e6","#d166df","#efbb3d"]},"legend":{"title":null}}}},
      {"data":{"name":"lCH"},"mark":{"type":"text","fontWeight":"bold","fontSize":10,"color":"#111111"},
       "encoding":{"x":{"field":"w","type":"quantitative"},"y":{"field":"t","type":"quantitative"},"text":{"field":"label"}}}
     ]}
  ]}
 ]},
 {"spacing":0,"vconcat":[
   {"width":1,"height":30,"data":{"values":[]},"mark":"point"},
   {"width":445,"height":358,
    "title":{"text":"Cedrela sp.","fontSize":19,"fontStyle":"italic","fontWeight":"normal","offset":22,"color":"#111111"},
    "view":{"stroke":"#333333","strokeWidth":1.5},
    "layer":[
     {"data":{"name":"bands"},"mark":{"type":"rect","color":"#f3e4ec"},
      "encoding":{"x":{"field":"w","type":"quantitative","scale":{"domain":[600,4000],"reverse":true,"nice":false,"zero":false},
        "axis":{"values":[3900,3750,3600,3450,3300,3150,3000,2850,2700,2550,2400,2250,2100,1950,1800,1650,1500,1350,1200,1050,900,750,600],"format":"d","labelExpr":"datum.value % 300 == 0 ? datum.label : ''","tickSize":-6,"tickColor":"#333333","tickWidth":1.2,"labelPadding":13,"labelFontSize":14,"labelColor":"#222222","domain":false,"title":"Número de onda (cm⁻¹)","titleFontSize":17,"titleFontWeight":"bold","titleFontStyle":"italic","titleColor":"#111111","titlePadding":12}},
       "x2":{"field":"w2"}}},
     {"data":{"name":"labels"},"mark":{"type":"text","fontWeight":"bold","fontSize":11,"color":"#111111"},
      "encoding":{"x":{"field":"w","type":"quantitative"},
       "y":{"field":"t","type":"quantitative","scale":{"domain":[0,100],"nice":false,"zero":false},"axis":{"title":"Transmitância [%]","labels":false,"ticks":false,"domain":false,"minExtent":0,"titleFontSize":17,"titleFontWeight":"bold","titleFontStyle":"italic","titleColor":"#111111","titlePadding":19.8}},
       "text":{"field":"label"}}},
     {"data":{"name":"boxes"},"mark":{"type":"rect","color":"#9e969e","opacity":0.3},
      "encoding":{"x":{"field":"w","type":"quantitative"},"x2":{"field":"w2"},"y":{"field":"t","type":"quantitative"},"y2":{"field":"t2"}}},
     {"data":{"name":"main"},"mark":{"type":"line","strokeWidth":2.2,"interpolate":"monotone","opacity":0.92},
      "encoding":{"x":{"field":"w","type":"quantitative"},"y":{"field":"t","type":"quantitative"},
       "color":{"field":"s","type":"nominal","scale":{"domain":["Controle","140 °C","180 °C","220 °C","240 °C"],"range":["#9a2a8c","#d84f6a","#7b44e6","#d166df","#efbb3d"]},"legend":{"title":null}}}}
    ]}
 ]},
 {"width":65,"height":1,"data":{"values":[]},"mark":"point"},
 {"spacing":10,"resolve":{"scale":{"x":"independent","y":"independent"}},"vconcat":[
   {"width":1,"height":36.5,"data":{"values":[]},"mark":"point"},
   {"spacing":8,"resolve":{"scale":{"x":"independent","y":"independent"}},"hconcat":[
     {"width":1,"height":1,"data":{"values":[]},"mark":"point"},
     {"width":175,"height":143,"view":{"fill":"#ffffff","stroke":"#8c8c8c","strokeWidth":1},
      "layer":[
       {"data":{"name":"coBands"},"mark":{"type":"rect","color":"#f4e6ee","clip":true},
        "encoding":{"x":{"field":"w","type":"quantitative","scale":{"domain":[1128.7,1746.4],"reverse":true,"nice":false,"zero":false},"axis":{"values":[1650,1500,1350,1200],"labelExpr":"datum.value == 1500 ? '1500' : (datum.value == 1200 ? '1200' : '')","tickSize":-3,"labelPadding":6,"labelFontSize":10,"labelColor":"#444444","tickColor":"#888888","domain":false,"title":null}},"x2":{"field":"w2"}}},
       {"data":{"name":"dCO"},"mark":{"type":"line","strokeWidth":1.3,"clip":true,"interpolate":"monotone"},
        "encoding":{"x":{"field":"w","type":"quantitative"},
         "y":{"field":"t","type":"quantitative","scale":{"domain":[49.9,81.1],"nice":false,"zero":false},"axis":null},
         "color":{"field":"s","type":"nominal","scale":{"domain":["Controle","140 °C","180 °C","220 °C","240 °C"],"range":["#9a2a8c","#d84f6a","#7b44e6","#d166df","#efbb3d"]},"legend":{"title":null}}}},
       {"data":{"name":"lCO"},"mark":{"type":"text","fontWeight":"bold","fontSize":9,"color":"#111111"},
        "encoding":{"x":{"field":"w","type":"quantitative"},"y":{"field":"t","type":"quantitative"},"text":{"field":"label"}}}
      ]}
   ]},
   {"width":1,"height":54,"data":{"values":[]},"mark":"point"},
   {"width":177,"height":142,"view":{"fill":"#ffffff","stroke":"#777777","strokeWidth":1},
    "layer":[
     {"data":{"name":"coOBands"},"mark":{"type":"rect","color":"#f4e6ee","clip":true},
      "encoding":{"x":{"field":"w","type":"quantitative","scale":{"domain":[863.1,1276.6],"reverse":true,"nice":false,"zero":false},"axis":{"values":[1200,1050,900],"labelExpr":"datum.value == 1050 ? '' : datum.value + ''","tickSize":-3,"labelPadding":6,"labelFontSize":10,"labelColor":"#444444","tickColor":"#888888","domain":false,"title":null}},"x2":{"field":"w2"}}},
     {"data":{"name":"dCO2"},"mark":{"type":"line","strokeWidth":1.3,"clip":true,"interpolate":"monotone"},
      "encoding":{"x":{"field":"w","type":"quantitative"},
       "y":{"field":"t","type":"quantitative","scale":{"domain":[7.2,49.0],"nice":false,"zero":false},"axis":null},
       "color":{"field":"s","type":"nominal","scale":{"domain":["Controle","140 °C","180 °C","220 °C","240 °C"],"range":["#9a2a8c","#d84f6a","#7b44e6","#d166df","#efbb3d"]},"legend":{"title":null}}}},
     {"data":{"name":"lCO2"},"mark":{"type":"text","fontWeight":"bold","fontSize":10,"color":"#111111"},
      "encoding":{"x":{"field":"w","type":"quantitative"},"y":{"field":"t","type":"quantitative"},"text":{"field":"label"}}}
    ]}
 ]}
]
}
